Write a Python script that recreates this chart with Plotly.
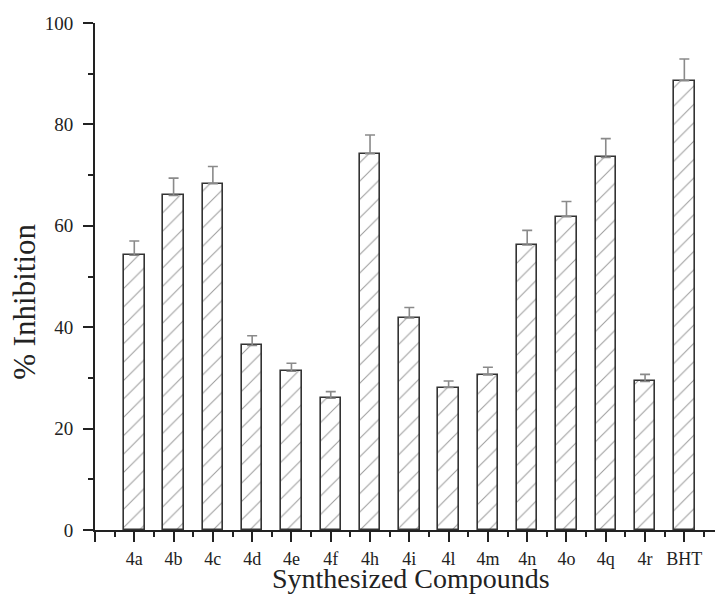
import plotly.graph_objects as go

compounds = ['4a', '4b', '4c', '4d', '4e', '4f', '4h', '4i', '4l', '4m',
             '4n', '4o', '4q', '4r', 'BHT']
inhibition = [54.2, 66.0, 68.3, 36.4, 31.3, 26.0, 74.2, 41.8, 28.1, 30.6,
              56.2, 61.8, 73.5, 29.3, 88.6]
err = [2.8, 3.4, 3.4, 1.9, 1.6, 1.3, 3.7, 2.1, 1.3, 1.5,
       2.9, 3.0, 3.7, 1.4, 4.3]

pos = list(range(1, len(compounds) + 1))

fig = go.Figure()
fig.add_trace(go.Bar(
    x=pos,
    y=inhibition,
    width=0.52,
    marker=dict(
        color='white',
        line=dict(color='#333333', width=1.6),
        pattern=dict(shape='/', fgcolor='#3a3a3a', bgcolor='white',
                     size=13, solidity=0.08),
    ),
    error_y=dict(type='data', array=err, symmetric=False,
                 arrayminus=[0] * len(err),
                 color='#8a8a8a', thickness=1.6, width=5),
))

font = 'Liberation Serif, Times New Roman, serif'
fig.update_layout(
    width=715, height=596,
    margin=dict(l=95, r=0, t=23, b=66),
    plot_bgcolor='white', paper_bgcolor='white',
    showlegend=False,
    font=dict(family=font, color='#222222'),
    bargap=0,
)
fig.update_xaxes(
    range=[0, 15.78],
    automargin=False,
    tickvals=[0] + pos,
    ticktext=[''] + compounds,
    ticks='outside', ticklen=10, tickwidth=2, tickcolor='#222222',
    minor=dict(tick0=0.5, dtick=1, ticks='outside', ticklen=5,
               tickwidth=2, tickcolor='#222222'),
    showline=True, linecolor='#222222', linewidth=2,
    showgrid=False, zeroline=False,
    tickfont=dict(size=18),
    ticklabelstandoff=1,
)
fig.update_yaxes(
    range=[0, 100],
    automargin=False,
    tickvals=[0, 20, 40, 60, 80, 100],
    ticks='outside', ticklen=10, tickwidth=2, tickcolor='#222222',
    minor=dict(tick0=0, dtick=10, ticks='outside', ticklen=5,
               tickwidth=2, tickcolor='#222222'),
    showline=True, linecolor='#222222', linewidth=2,
    showgrid=False, zeroline=False,
    tickfont=dict(size=19),
    ticklabelstandoff=6,
)

# axis titles as annotations so they sit where the reference has them
fig.add_annotation(text='Synthesized Compounds', xref='paper', yref='paper',
                   x=0.51, y=-0.13, xanchor='center', yanchor='bottom',
                   showarrow=False, font=dict(size=28))
fig.add_annotation(text='% Inhibition', xref='paper', yref='paper',
                   x=-0.113, y=0.45, xanchor='center', yanchor='middle',
                   textangle=-90, showarrow=False, font=dict(size=31))

# drop the page's default body margin so the figure fills the window
fig.write_html("out.html", config={'displayModeBar': False},
               post_script="document.body.style.margin='0';")
